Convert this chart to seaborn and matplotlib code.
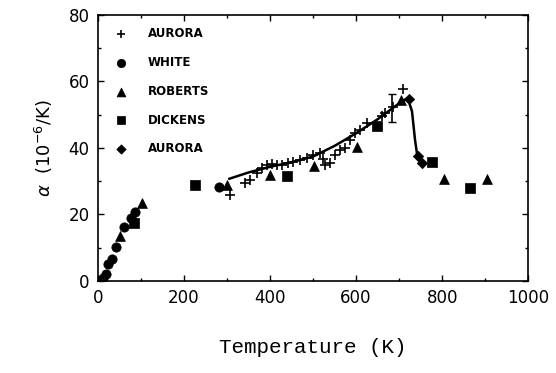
import numpy as np
import pandas as pd
import seaborn as sns
import matplotlib.pyplot as plt
from matplotlib.ticker import MultipleLocator

### data
aurora_T = [307, 342, 353, 369, 381, 393, 404, 416, 428, 442, 453, 470, 486, 500, 516,
            523, 528, 540, 551, 563, 574, 586, 598, 609, 626, 660, 667, 686, 709]
aurora_a = [25.9, 29.5, 30.4, 32.5, 34.0, 34.9, 35.2, 34.9, 34.9, 35.5, 35.8, 36.4, 37.0, 37.9, 38.5,
            36.7, 34.9, 35.5, 37.9, 39.4, 40.0, 42.4, 44.5, 45.4, 47.5, 49.6, 50.5, 52.3, 57.7]

white_T = [5, 12, 19, 23, 33, 42, 60, 77, 86, 281]
white_a = [0.0, 1.0, 2.0, 5.0, 6.6, 10.2, 16.2, 19.0, 20.8, 28.3]

roberts_T = [51, 102, 300, 400, 502, 602, 705, 805, 905]
roberts_a = [13.5, 23.5, 28.9, 31.9, 34.6, 40.3, 54.4, 30.7, 30.7]

dickens_T = [84, 226, 439, 649, 777, 865]
dickens_a = [17.4, 28.9, 31.6, 46.6, 35.8, 28.0]

aurora2_T = [723, 744, 753]
aurora2_a = [54.7, 37.6, 35.5]

fit_T = [305, 350, 400, 450, 500, 550, 600, 650, 700, 720, 730, 737, 742, 751]
fit_a = [30.7, 32.6, 34.3, 35.7, 37.4, 40.6, 44.4, 48.6, 53.4, 55.0, 51.0, 42.4, 37.9, 35.8]

err_T = [684]
err_a = [51.9]
err_d = [4.2]

### plot
sns.set_style("ticks")
plt.rcParams['text.color'] = 'black'
plt.rcParams['axes.labelcolor'] = 'black'
plt.rcParams['xtick.color'] = 'black'
plt.rcParams['ytick.color'] = 'black'
plt.rcParams['axes.edgecolor'] = 'black'

fig = plt.figure(figsize=(5.56, 3.73), dpi=100)
ax = fig.add_axes([0.176, 0.247, 0.774, 0.713])

fit_df = pd.DataFrame({'T': fit_T, 'a': fit_a})
sns.lineplot(data=fit_df, x='T', y='a', sort=False, color='black', lw=1.8, ax=ax)

series = [
    (aurora_T, aurora_a, 'P', 'AURORA', 45, 'plus'),
    (white_T, white_a, 'o', 'WHITE', 45, None),
    (roberts_T, roberts_a, '^', 'ROBERTS', 50, None),
    (dickens_T, dickens_a, 's', 'DICKENS', 45, None),
    (aurora2_T, aurora2_a, 'D', 'AURORA', 28, None),
]
for T, a, m, lab, s, kind in series:
    df = pd.DataFrame({'T': T, 'a': a})
    if kind == 'plus':
        sns.scatterplot(data=df, x='T', y='a', marker='+', s=s, color='black',
                        linewidth=1.2, label=lab, ax=ax)
    else:
        sns.scatterplot(data=df, x='T', y='a', marker=m, s=s, color='black',
                        edgecolor='black', linewidth=0.5, label=lab, ax=ax)

ax.errorbar(err_T, err_a, yerr=err_d, fmt='none', ecolor='black', elinewidth=1.2, capsize=3)

ax.set_xlim(0, 1000)
ax.set_ylim(0, 80)
ax.xaxis.set_major_locator(MultipleLocator(200))
ax.xaxis.set_minor_locator(MultipleLocator(100))
ax.yaxis.set_major_locator(MultipleLocator(20))
ax.yaxis.set_minor_locator(MultipleLocator(10))
ax.tick_params(which='both', direction='in', top=True, right=True, width=1.0)
ax.tick_params(which='major', length=4, labelsize=12, pad=6)
ax.tick_params(which='minor', length=2.5)
for sp in ax.spines.values():
    sp.set_linewidth(1.2)

ax.set_xlabel('Temperature (K)', family='Liberation Mono', fontsize=15, labelpad=22)
ax.set_ylabel(r'$\alpha$  (10$^{-6}$/K)', fontsize=13, labelpad=10)

leg = ax.legend(loc='upper left', frameon=False, fontsize=8.5, handletextpad=1.2,
                labelspacing=1.35, borderaxespad=0.6, markerscale=0.9)
for t in leg.get_texts():
    t.set_fontweight('bold')

fig.savefig('out.png', dpi=100)
